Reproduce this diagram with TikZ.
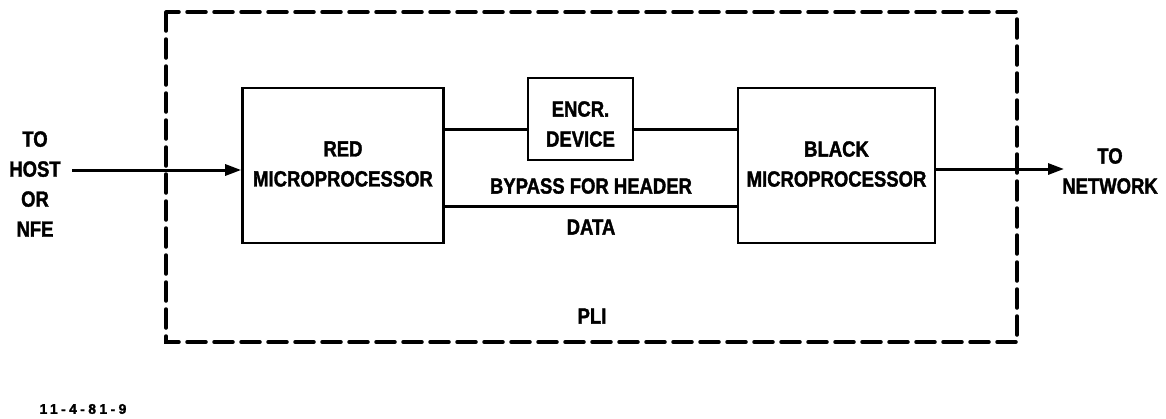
\documentclass[tikz,border=0pt]{standalone}
\usepackage{fontspec}
\setmainfont{Liberation Sans}[FakeStretch=0.84]
\newfontfamily\figfont{Liberation Sans}[LetterSpace=24, FakeBold=1.5]
\usetikzlibrary{arrows.meta}
\begin{document}
\begin{tikzpicture}[x=1pt,y=-1pt,
  lbl/.style={font=\bfseries\addfontfeature{FakeBold=1.6}\fontsize{22}{30}\selectfont, align=center, inner sep=0pt},
  blk/.style={draw, line width=2.6pt, inner sep=0pt},
  wire/.style={line width=3pt},
  arr/.style={line width=3pt, -{Triangle[length=16pt,width=11pt]}},
  enclosure/.style={draw, line width=3.5pt, dash pattern=on 19pt off 8pt, line cap=round}]
\useasboundingbox (0,0) rectangle (1166,418);
\draw[enclosure] (166,12) rectangle (1017,342);
\node[blk, minimum width=201pt, minimum height=155pt] (red) at (343,165.5) {};
\node[blk, minimum width=105pt, minimum height=82pt] (encr) at (580.5,119) {};
\node[blk, minimum width=197pt, minimum height=155pt] (black) at (836.5,165.5) {};
\node[lbl] at (343,164) {RED\\MICROPROCESSOR};
\node[lbl] at (580.5,124) {ENCR.\\DEVICE};
\node[lbl] at (836.5,164) {BLACK\\MICROPROCESSOR};
\coordinate (ra) at (red.east |- 0,129);
\coordinate (ea) at (encr.west |- 0,129);
\coordinate (eb) at (encr.east |- 0,129);
\coordinate (ba) at (black.west |- 0,129);
\draw[wire] (ra) -- (ea);
\draw[wire] (eb) -- (ba);
\coordinate (rb) at (red.east |- 0,206);
\coordinate (bb) at (black.west |- 0,206);
\draw[wire] (rb) -- (bb);
\node[lbl] (bp) at (591,186) {BYPASS FOR HEADER};
\node[lbl] (dt) at (591,227) {DATA};
\node[lbl] (pli) at (592,316) {PLI};
\node[lbl] (host) at (35,184) {TO\\HOST\\OR\\NFE};
\node[lbl] (net) at (1110,171) {TO\\NETWORK};
\coordinate (hin) at (72,170);
\draw[arr] (hin) -- (red.west |- hin);
\coordinate (bout) at (black.east |- 0,169);
\coordinate (nin) at (1064,169);
\draw[arr] (bout) -- (nin);
\node[font=\figfont\bfseries\fontsize{14}{16}\selectfont, inner sep=0pt] (fig) at (83,409) {11-4-81-9};
\end{tikzpicture}
\end{document}
